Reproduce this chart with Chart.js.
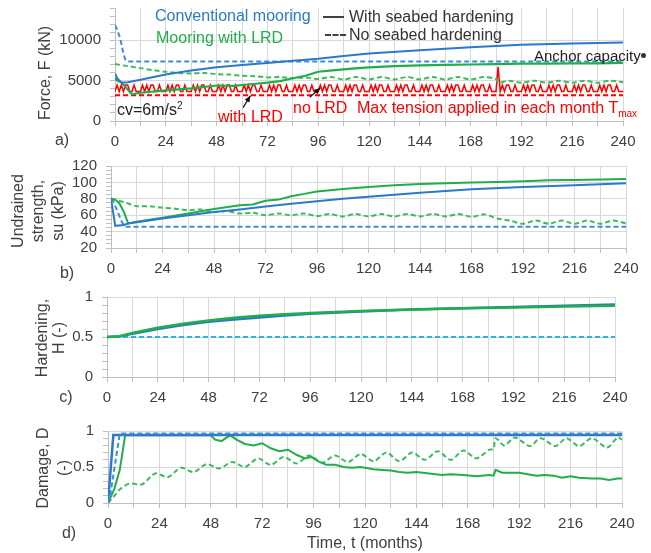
<!DOCTYPE html>
<html lang="en">
<head>
<meta charset="UTF-8">
<title>Mooring force, strength, hardening and damage</title>
<script src="https://cdn.jsdelivr.net/npm/chart.js"></script>
<style>
    body { margin: 0; background: #fff; font-family: 'Liberation Sans', Arial, sans-serif; }
    #page { position: relative; width: 651px; height: 553px; overflow: hidden; }
    canvas { position: absolute; left: 0; }
    .txt { position: absolute; white-space: nowrap; font-size: 16px; line-height: 1; transform: translateY(-50%); }
    .ctr { position: absolute; white-space: nowrap; font-size: 16px; line-height: 1; transform: translate(-50%, -50%); color: #404040; }
    .rot { position: absolute; white-space: nowrap; font-size: 16px; text-align: center; color: #404040;
           transform: translate(-50%, -50%) rotate(-90deg); }
    .sw { position: absolute; width: 21px; height: 0; }
    sup, sub { font-size: 10px; line-height: 0; }
</style>
</head>
<body>
<div id="page">
    <canvas id="chartA" width="651" height="160" style="top:0"></canvas>
    <canvas id="chartB" width="651" height="135" style="top:150px"></canvas>
    <canvas id="chartC" width="651" height="128" style="top:280px"></canvas>
    <canvas id="chartD" width="651" height="148" style="top:405px"></canvas>

    <!-- axis titles -->
    <div class="rot" style="left:45px;top:73px;">Force, F (kN)</div>
    <div class="rot" style="left:38px;top:211px;line-height:20px">Undrained<br>strength,<br>su (kPa)</div>
    <div class="rot" style="left:50px;top:338px;line-height:17px">Hardening,<br>H (-)</div>
    <div class="rot" style="left:53px;top:468px;line-height:21px">Damage, D<br>(-)</div>
    <div class="ctr" style="left:365px;top:543px">Time, t (months)</div>

    <div class="ctr" style="left:62px;top:140px">a)</div>
    <div class="ctr" style="left:67px;top:273px">b)</div>
    <div class="ctr" style="left:66px;top:397px">c)</div>
    <div class="ctr" style="left:69px;top:533px">d)</div>

    <!-- legend and notes of panel a -->
    <div class="txt" style="left:155px;top:16px;color:#2b79c9">Conventional mooring</div>
    <div class="txt" style="left:156px;top:38px;color:#1fae4b">Mooring with LRD</div>
    <div class="sw" style="left:323px;top:16px;border-top:2px solid #404040"></div>
    <div class="txt" style="left:349px;top:17px;color:#333">With seabed hardening</div>
    <div class="sw" style="left:325px;top:34px;border-top:2px dashed #404040"></div>
    <div class="txt" style="left:349px;top:35px;color:#333">No seabed hardening</div>
    <div class="txt" style="left:534px;top:55px;color:#222;font-size:15px">Anchor capacity</div>
    <div style="position:absolute;left:641px;top:53px;width:5px;height:5px;border-radius:3px;background:#333"></div>
    <div class="txt" style="left:117px;top:110px;color:#222">cv=6m/s<sup>2</sup></div>
    <div class="txt" style="left:218px;top:117px;color:#ff0000">with LRD</div>
    <div class="txt" style="left:293px;top:108px;color:#ff0000">no LRD</div>
    <div class="txt" style="left:357px;top:108px;color:#ff0000">Max tension applied in each month T<sub>max</sub></div>
</div>

<script>
    // ---- shared ticks ----
    const monthLabels = [0, 24, 48, 72, 96, 120, 144, 168, 192, 216, 240];
    const forceLabels = [0, 5000, 10000];
    const suLabels = [20, 40, 60, 80, 100, 120];
    const unitLabels = [0, 0.5, 1];

    // ---- a) Force, F (kN) ----
    const tConvHardA = [0, 1, 3, 6, 12, 24, 36, 48, 60, 72, 84, 96, 108, 120, 144, 168, 192, 216, 240];
    const fConvHardA = [5900, 5300, 4750, 4800, 5100, 5750, 6250, 6650, 6950, 7200, 7450, 7700, 8050, 8350, 8770, 9150, 9450, 9600, 9720];
    const tConvNoHardA = [0, 1, 2, 3, 4, 5, 6, 240];
    const fConvNoHardA = [11900, 11300, 10600, 9600, 8300, 7500, 7380, 7380];
    const tLrdHardA = [0, 1, 3, 5, 8, 12, 24, 36, 48, 56, 64, 72, 78, 84, 90, 96, 104, 112, 120, 132, 144, 156, 168, 180, 192, 204, 216, 228, 240];
    const fLrdHardA = [5300, 5000, 4800, 4200, 3300, 3500, 3800, 4050, 4400, 4350, 4550, 4750, 4950, 5300, 5600, 6100, 6300, 6500, 6650, 6800, 6900, 6950, 7000, 7050, 7100, 7100, 7150, 7150, 7200];
    const tLrdNoHardA = [0, 6, 12, 18, 24, 30, 36, 42, 48, 54, 60, 66, 72, 78, 84, 90, 96, 102, 108, 114, 120, 126, 132, 138, 144, 150, 156, 162, 168, 174, 180, 181, 186, 192, 198, 204, 210, 216, 222, 228, 234, 240];
    const fLrdNoHardA = [7050, 6800, 6550, 6300, 6100, 5950, 5900, 5950, 5800, 5750, 5600, 5550, 5400, 5450, 5300, 5400, 5200, 5450, 5150, 5450, 5150, 5450, 5150, 5450, 5150, 5450, 5150, 5450, 5150, 5450, 5200, 4750, 5000, 4750, 5000, 4750, 5000, 4750, 5000, 4750, 5000, 4800];
    // Tmax per month (month 0 .. 240), no LRD
    const tmaxNoLrdA = [
        3650, 4450, 3650, 4450, 3650, 4450, 4450, 3650, 3650, 4450, 3650, 3650,
        3650, 4450, 3650, 4450, 3650, 4450, 4450, 3650, 3650, 4450, 3650, 3650,
        3650, 4450, 3650, 4450, 3650, 4450, 4450, 3650, 3650, 4450, 3650, 3650,
        3650, 4450, 3650, 4450, 3650, 4450, 4450, 3650, 3650, 4450, 3650, 3650,
        3650, 4450, 3650, 4450, 3650, 4450, 4450, 3650, 3650, 4450, 3650, 3650,
        3650, 4450, 3650, 4450, 3650, 4450, 4450, 3650, 3650, 4450, 3650, 3650,
        3650, 4450, 3650, 4450, 3650, 4450, 4450, 3650, 3650, 4450, 3650, 3650,
        3650, 4450, 3650, 4450, 3650, 4450, 4450, 3650, 3650, 4450, 3650, 3650,
        3650, 4450, 3650, 4450, 3650, 4450, 4450, 3650, 3650, 4450, 3650, 3650,
        3650, 4450, 3650, 4450, 3650, 4450, 4450, 3650, 3650, 4450, 3650, 3650,
        3650, 4450, 3650, 4450, 3650, 4450, 4450, 3650, 3650, 4450, 3650, 3650,
        3650, 4450, 3650, 4450, 3650, 4450, 4450, 3650, 3650, 4450, 3650, 3650,
        3650, 4450, 3650, 4450, 3650, 4450, 4450, 3650, 3650, 4450, 3650, 3650,
        3650, 4450, 3650, 4450, 3650, 4450, 4450, 3650, 3650, 4450, 3650, 3650,
        3650, 4450, 3650, 4450, 3650, 4450, 4450, 3650, 3650, 4450, 3650, 3650,
        3650, 6700, 3650, 4450, 3650, 4450, 4450, 3650, 3650, 4450, 3650, 3650,
        3650, 4450, 3650, 4450, 3650, 4450, 4450, 3650, 3650, 4450, 3650, 3650,
        3650, 4450, 3650, 4450, 3650, 4450, 4450, 3650, 3650, 4450, 3650, 3650,
        3650, 4450, 3650, 4450, 3650, 4450, 4450, 3650, 3650, 4450, 3650, 3650,
        3650, 4450, 3650, 4450, 3650, 4450, 4450, 3650, 3650, 4450, 3650, 3650,
        3650
    ];
    const tTmaxLrdA = [0, 240];
    const fTmaxLrdA = [3200, 3200];

    // ---- b) Undrained strength, su (kPa) ----
    const tConvHardB = [0, 2, 6, 8, 12, 24, 36, 48, 60, 72, 84, 96, 108, 120, 144, 168, 192, 216, 240];
    const suConvHardB = [80, 47, 48, 50, 51.5, 56, 60, 64, 67, 70.5, 74, 77, 80, 82.5, 87.5, 91.5, 94.5, 96.5, 99];
    const tConvNoHardB = [0, 1, 3, 5, 6.5, 240];
    const suConvNoHardB = [80, 77, 65, 52, 46, 46];
    const tLrdHardB = [0, 2, 4, 6, 8, 12, 24, 36, 48, 60, 66, 72, 78, 84, 90, 96, 102, 108, 120, 132, 144, 156, 168, 180, 192, 204, 216, 228, 240];
    const suLrdHardB = [80, 79, 74, 64, 50, 52, 57, 62, 67.5, 72, 73, 77.5, 79, 83, 86, 89, 90.5, 92, 94.5, 96.5, 98, 99, 100, 100.5, 101.5, 102.5, 103, 103.5, 104];
    const tLrdNoHardB = [0, 6, 12, 18, 24, 30, 36, 42, 48, 54, 60, 66, 72, 78, 84, 90, 96, 102, 108, 114, 120, 126, 132, 138, 144, 150, 156, 162, 168, 174, 180, 186, 192, 198, 204, 210, 216, 222, 228, 234, 240];
    const suLrdNoHardB = [80, 76, 71, 71, 69, 68, 66, 67, 64, 65, 62, 63, 60, 62, 60, 62, 59, 61.5, 58.5, 61.5, 58.5, 61.5, 58.5, 61.5, 58.5, 61.5, 58.5, 61.5, 58, 61, 56, 53.5, 49.5, 53.5, 49.5, 53.5, 49.5, 53.5, 49.5, 53.5, 50];

    // ---- c) Hardening, H (-) ----
    const tHardC = [0, 6, 12, 24, 36, 48, 60, 72, 84, 96, 120, 144, 168, 192, 216, 240];
    const hConvC = [0.5, 0.51, 0.54, 0.6, 0.65, 0.69, 0.72, 0.745, 0.77, 0.79, 0.82, 0.845, 0.86, 0.875, 0.89, 0.905];
    const hLrdC = [0.5, 0.51, 0.55, 0.615, 0.665, 0.705, 0.74, 0.765, 0.785, 0.8, 0.825, 0.845, 0.86, 0.87, 0.88, 0.89];
    const tNoHardC = [0, 240];
    const hNoHardC = [0.5, 0.5];

    // ---- d) Damage, D (-) ----
    const tConvHardD = [0, 2.5, 240];
    const dConvHardD = [0, 0.945, 0.945];
    const tConvNoHardD = [0, 1, 5.5, 240];
    const dConvNoHardD = [0, 0.1, 0.965, 0.965];
    const tLrdHardD = [0, 3, 5.5, 8, 48, 50, 53, 55, 57, 60, 64, 68, 72, 76, 80, 84, 88, 92, 95, 98, 102, 106, 110, 114, 118, 124, 128, 132, 136, 140, 144, 150, 156, 160, 166, 172, 178, 180, 181, 184, 188, 192, 196, 200, 204, 208, 212, 216, 220, 226, 230, 234, 238, 240];
    const dLrdHardD = [0, 0.2, 0.46, 0.94, 0.94, 0.88, 0.86, 0.9, 0.94, 0.88, 0.82, 0.8, 0.83, 0.76, 0.72, 0.74, 0.67, 0.62, 0.64, 0.58, 0.53, 0.53, 0.5, 0.49, 0.5, 0.47, 0.46, 0.45, 0.43, 0.42, 0.43, 0.41, 0.39, 0.4, 0.39, 0.37, 0.39, 0.38, 0.46, 0.42, 0.42, 0.42, 0.4, 0.38, 0.39, 0.38, 0.35, 0.37, 0.35, 0.34, 0.34, 0.32, 0.34, 0.34];
    const tLrdNoHardD = [0, 3, 6, 10, 16, 22, 28, 34, 40, 46, 52, 58, 64, 70, 76, 82, 88, 94, 100, 106, 112, 118, 124, 130, 136, 142, 148, 154, 160, 166, 172, 178, 180, 181, 185, 190, 197, 202, 209, 214, 220, 226, 233, 238, 240];
    const dLrdNoHardD = [0, 0.1, 0.2, 0.27, 0.26, 0.41, 0.36, 0.49, 0.43, 0.54, 0.48, 0.57, 0.5, 0.62, 0.53, 0.64, 0.55, 0.66, 0.56, 0.66, 0.57, 0.68, 0.58, 0.7, 0.58, 0.7, 0.6, 0.72, 0.6, 0.73, 0.62, 0.74, 0.75, 0.9, 0.8, 0.91, 0.79, 0.9, 0.79, 0.9, 0.79, 0.9, 0.77, 0.91, 0.88];

    // ---- styling ----
    const BLUE = '#2b79c9', BLUE_D = '#3a8ddc', CYAN = '#27b4ec';
    const GREEN = '#1fae4b', GREEN_D = '#3cba5d', RED = '#ff0000';
    const gridColor = '#d9d9d9', axisColor = '#bfbfbf', tickColor = '#404040';
    const tickFont = { family: "'Liberation Sans', Arial, sans-serif", size: 15 };

    function xy(t, v) {
        return t.map((m, i) => ({ x: m, y: v[i] }));
    }
    function line(t, v, color, dashed, width, tension) {
        return {
            data: xy(t, v),
            borderColor: color,
            borderWidth: width || 2,
            borderDash: dashed ? [5, 3] : [],
            pointRadius: 0,
            tension: tension || 0,
            fill: false
        };
    }
    function isLabel(list, v) {
        return list.some(l => Math.abs(l - v) < 1e-6);
    }

    function xScale(fit) {
        return {
            type: 'linear', min: 0, max: 240,
            ticks: {
                stepSize: 12, autoSkip: false, maxRotation: 0, padding: 7, maxTicksLimit: 100,
                color: tickColor, font: tickFont,
                callback: v => isLabel(monthLabels, v) ? String(v) : ''
            },
            grid: { color: gridColor, tickColor: axisColor, tickLength: 5 },
            border: { color: axisColor },
            afterFit: s => { s.height = fit.h; }
        };
    }
    function yScale(min, max, step, labels, fit) {
        return {
            type: 'linear', min: min, max: max,
            ticks: {
                stepSize: step, autoSkip: false, padding: 9, maxTicksLimit: 100,
                color: tickColor, font: tickFont,
                callback: v => isLabel(labels, v) ? String(Math.round(v * 1000) / 1000) : ''
            },
            grid: {
                color: c => isLabel(labels, c.tick.value) ? gridColor : 'rgba(0,0,0,0)',
                tickColor: axisColor, tickLength: 5
            },
            border: { color: axisColor },
            afterFit: s => { s.width = fit.w; }
        };
    }

    // arrows of panel a: [fromMonth, fromForce, toMonth, toForce]
    const arrowsA = [[60.5, 1650, 64, 3150], [92, 2950, 97, 4100]];
    const arrowPlugin = {
        id: 'arrows',
        afterDatasetsDraw(chart) {
            const { ctx, scales: { x, y } } = chart;
            arrowsA.forEach(a => {
                const x0 = x.getPixelForValue(a[0]), y0 = y.getPixelForValue(a[1]);
                const x1 = x.getPixelForValue(a[2]), y1 = y.getPixelForValue(a[3]);
                const ang = Math.atan2(y1 - y0, x1 - x0);
                ctx.save();
                ctx.strokeStyle = '#111';
                ctx.fillStyle = '#111';
                ctx.lineWidth = 1.2;
                ctx.beginPath();
                ctx.moveTo(x0, y0);
                ctx.lineTo(x1, y1);
                ctx.stroke();
                ctx.beginPath();
                ctx.moveTo(x1, y1);
                ctx.lineTo(x1 - 7 * Math.cos(ang - 0.4), y1 - 7 * Math.sin(ang - 0.4));
                ctx.lineTo(x1 - 7 * Math.cos(ang + 0.4), y1 - 7 * Math.sin(ang + 0.4));
                ctx.closePath();
                ctx.fill();
                ctx.restore();
            });
        }
    };

    // area: wanted plot box in page pixels
    function makeChart(id, datasets, yOpts, area, plugins) {
        const canvas = document.getElementById(id);
        const top0 = parseFloat(canvas.style.top) || 0;
        const fit = { w: area.left, h: canvas.height - (area.bottom - top0) };
        const pad = { left: 0, top: area.top - top0, right: canvas.width - area.right, bottom: 0 };
        const chart = new Chart(canvas, {
            type: 'line',
            data: { datasets: datasets },
            options: {
                responsive: false,
                animation: false,
                layout: { padding: pad },
                plugins: { legend: { display: false }, tooltip: { enabled: false } },
                scales: { x: xScale(fit), y: yScale(yOpts[0], yOpts[1], yOpts[2], yOpts[3], fit) }
            },
            plugins: plugins || []
        });
        // nudge the layout until the plot box sits where the reference has it
        let off = 0;
        for (let k = 0; k < 6; k++) {
            const a = chart.chartArea;
            const dTop = (area.top - top0 - off) - a.top;
            const dBottom = a.bottom - (area.bottom - top0 - off);
            const dLeft = area.left - a.left;
            const dRight = a.right - area.right;
            if (Math.max(Math.abs(dTop), Math.abs(dBottom), Math.abs(dLeft), Math.abs(dRight)) < 0.6) break;
            if (Math.abs(dTop) >= 0.6) {
                if (k < 2) pad.top = Math.max(0, pad.top + dTop);
                else off += dTop;
            }
            pad.right = Math.max(0, pad.right + dRight);
            fit.w += dLeft;
            fit.h += dBottom;
            chart.update();
        }
        canvas.style.top = (top0 + off) + 'px';
        return chart;
    }

    // first dataset is drawn on top
    makeChart('chartA', [
        line(tConvHardA, fConvHardA, BLUE, false, 2),
        line(tLrdHardA, fLrdHardA, GREEN, false, 2.2),
        line(tConvNoHardA, fConvNoHardA, BLUE_D, true, 2),
        line(tLrdNoHardA, fLrdNoHardA, GREEN_D, true, 2, 0.3),
        line(tmaxNoLrdA.map((_, i) => i), tmaxNoLrdA, RED, false, 1.5),
        line(tTmaxLrdA, fTmaxLrdA, RED, true, 2)
    ], [0, 14000, 1000, forceLabels], { left: 115, right: 623, top: 8, bottom: 121 }, [arrowPlugin]);

    makeChart('chartB', [
        line(tConvHardB, suConvHardB, BLUE, false, 2),
        line(tLrdHardB, suLrdHardB, GREEN, false, 2),
        line(tConvNoHardB, suConvNoHardB, BLUE_D, true, 2),
        line(tLrdNoHardB, suLrdNoHardB, GREEN_D, true, 2, 0.3)
    ], [20, 120, 5, suLabels], { left: 111, right: 626, top: 166, bottom: 248 });

    makeChart('chartC', [
        line(tHardC, hLrdC, GREEN, false, 2.5),
        line(tHardC, hConvC, BLUE, false, 2.5),
        line(tNoHardC, hNoHardC, CYAN, true, 2)
    ], [0, 1, 0.1, unitLabels], { left: 107, right: 615, top: 297, bottom: 377 });

    makeChart('chartD', [
        line(tConvNoHardD, dConvNoHardD, BLUE_D, true, 2),
        line(tConvHardD, dConvHardD, BLUE, false, 2.5),
        line(tLrdHardD, dLrdHardD, GREEN, false, 2),
        line(tLrdNoHardD, dLrdNoHardD, GREEN_D, true, 2, 0.3)
    ], [0, 1, 0.1, unitLabels], { left: 108, right: 622, top: 431, bottom: 503 });
</script>
</body>
</html>
